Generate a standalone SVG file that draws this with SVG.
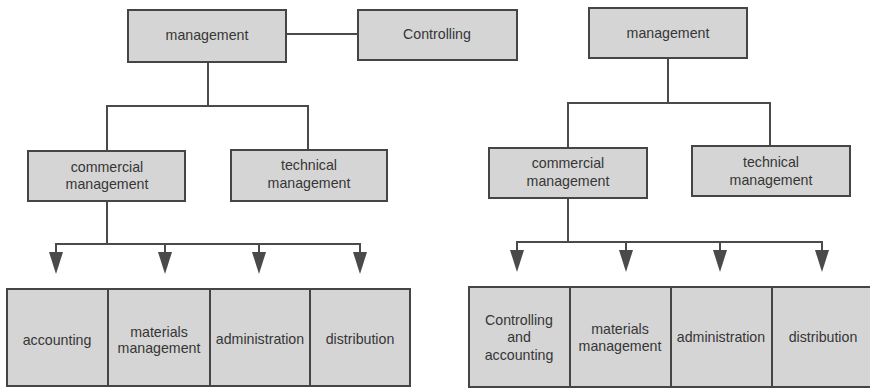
<svg xmlns="http://www.w3.org/2000/svg" width="870" height="389" viewBox="0 0 870 389">
  <style>
    .box { fill: #d5d5d5; stroke: #454545; stroke-width: 2; }
    .lbl { font-family: "Liberation Sans", Arial, sans-serif; font-size: 14.2px; fill: #363636; text-anchor: middle; }
    .wire { fill: none; stroke: #4a4a4a; stroke-width: 2; }
  </style>
  <defs>
    <!-- filled arrowhead placed after the end of a short drop line -->
    <marker id="tri" markerUnits="userSpaceOnUse" viewBox="0 0 22 14" markerWidth="22" markerHeight="14" refX="0" refY="7" orient="auto">
      <path d="M0,0 L22,7 L0,14 Z" fill="#4a4a4a"/>
    </marker>
  </defs>
  <rect width="870" height="389" fill="#ffffff"/>

  <!-- connectors -->
  <g id="connectors">
    <!-- left chart -->
    <path class="wire" d="M286,34 H358"/>
    <path class="wire" d="M208,62 V106 M107,151 V106 H308 V150"/>
    <path class="wire" d="M107,201 V244 M56,244 H361"/>
    <path class="wire" d="M56,243 V252" marker-end="url(#tri)"/>
    <path class="wire" d="M165,244 V252" marker-end="url(#tri)"/>
    <path class="wire" d="M259,244 V252" marker-end="url(#tri)"/>
    <path class="wire" d="M360,243 V252" marker-end="url(#tri)"/>

    <!-- right chart -->
    <path class="wire" d="M668,58 V103 M568,148 V103 H770 V146"/>
    <path class="wire" d="M568,198 V242 M517,242 H822"/>
    <path class="wire" d="M517,241 V250" marker-end="url(#tri)"/>
    <path class="wire" d="M626,242 V250" marker-end="url(#tri)"/>
    <path class="wire" d="M720,242 V250" marker-end="url(#tri)"/>
    <path class="wire" d="M822,241 V250" marker-end="url(#tri)"/>
  </g>

  <!-- left chart nodes -->
  <g id="l-management">
    <rect class="box" x="128" y="10" width="158" height="52"/>
    <text class="lbl" x="207" y="40">management</text>
  </g>
  <g id="l-controlling">
    <rect class="box" x="358" y="10" width="159" height="50"/>
    <text class="lbl" x="437" y="39">Controlling</text>
  </g>
  <g id="l-commercial">
    <rect class="box" x="28" y="151" width="157" height="50"/>
    <text class="lbl" x="107" y="172">commercial</text>
    <text class="lbl" x="107" y="189">management</text>
  </g>
  <g id="l-technical">
    <rect class="box" x="231" y="150" width="156" height="51"/>
    <text class="lbl" x="309" y="170">technical</text>
    <text class="lbl" x="309" y="188">management</text>
  </g>
  <g id="l-accounting">
    <rect class="box" x="7" y="289" width="101" height="97"/>
    <text class="lbl" x="57" y="345">accounting</text>
  </g>
  <g id="l-materials">
    <rect class="box" x="108" y="289" width="102" height="97"/>
    <text class="lbl" x="159" y="337">materials</text>
    <text class="lbl" x="159" y="353">management</text>
  </g>
  <g id="l-administration">
    <rect class="box" x="210" y="289" width="100" height="97"/>
    <text class="lbl" x="260" y="344">administration</text>
  </g>
  <g id="l-distribution">
    <rect class="box" x="310" y="289" width="100" height="97"/>
    <text class="lbl" x="360" y="344">distribution</text>
  </g>

  <!-- right chart nodes -->
  <g id="r-management">
    <rect class="box" x="589" y="8" width="158" height="50"/>
    <text class="lbl" x="668" y="38">management</text>
  </g>
  <g id="r-commercial">
    <rect class="box" x="489" y="148" width="158" height="50"/>
    <text class="lbl" x="568" y="168">commercial</text>
    <text class="lbl" x="568" y="186">management</text>
  </g>
  <g id="r-technical">
    <rect class="box" x="692" y="146" width="158" height="50"/>
    <text class="lbl" x="771" y="167">technical</text>
    <text class="lbl" x="771" y="185">management</text>
  </g>
  <g id="r-controlling-accounting">
    <rect class="box" x="469" y="287" width="101" height="100"/>
    <text class="lbl" x="519" y="325">Controlling</text>
    <text class="lbl" x="519" y="342">and</text>
    <text class="lbl" x="519" y="360">accounting</text>
  </g>
  <g id="r-materials">
    <rect class="box" x="570" y="287" width="101" height="100"/>
    <text class="lbl" x="620" y="334">materials</text>
    <text class="lbl" x="620" y="351">management</text>
  </g>
  <g id="r-administration">
    <rect class="box" x="671" y="287" width="101" height="100"/>
    <text class="lbl" x="721" y="342">administration</text>
  </g>
  <g id="r-distribution">
    <rect class="box" x="772" y="287" width="102" height="100"/>
    <text class="lbl" x="823" y="342">distribution</text>
  </g>
</svg>
